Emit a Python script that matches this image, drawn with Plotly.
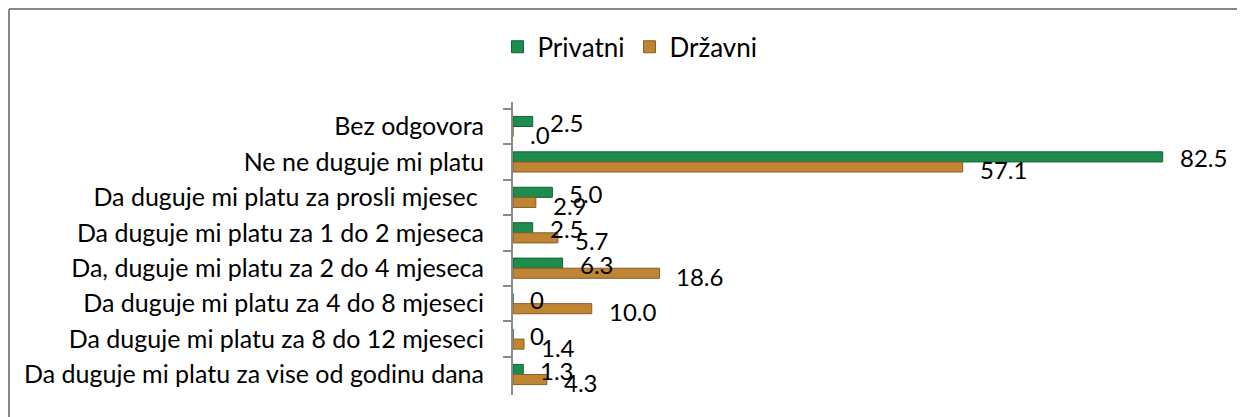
import plotly.graph_objects as go

categories = [
    "Bez odgovora",
    "Ne ne duguje mi platu",
    "Da duguje mi platu za prosli mjesec ",
    "Da duguje mi platu za 1 do 2 mjeseca",
    "Da, duguje mi platu za 2 do 4 mjeseca",
    "Da duguje mi platu za 4 do 8 mjeseci",
    "Da duguje mi platu za 8 do 12 mjeseci",
    "Da duguje mi platu za vise od godinu dana",
]
privatni = [2.5, 82.5, 5.0, 2.5, 6.3, 0, 0, 1.3]
drzavni = [0, 57.1, 2.9, 5.7, 18.6, 10.0, 1.4, 4.3]
privatni_labels = ["2.5", "82.5", "5.0", "2.5", "6.3", "0", "0", "1.3"]
drzavni_labels = [".0", "57.1", "2.9", "5.7", "18.6", "10.0", "1.4", "4.3"]

# the page body adds an 8px margin, so the figure is 8px smaller
W, H = 1239, 409
ML, MR, MT, MB = 505, 41, 94, 22
FONT = "Lato"
FS = 24

fig = go.Figure()
fig.add_trace(go.Bar(
    y=categories, x=privatni, orientation="h", name="Privatni",
    marker=dict(color="#1d8c4c", line=dict(color="#0f6334", width=1)),
))
fig.add_trace(go.Bar(
    y=categories, x=drzavni, orientation="h", name="Državni",
    marker=dict(color="#bf8534", line=dict(color="#84601f", width=1)),
))

# data labels, placed like excel's outside-end labels
for cat, v, t in zip(categories, privatni, privatni_labels):
    fig.add_annotation(x=v, y=cat, text=t, showarrow=False, xanchor="left",
                       xshift=15, yshift=4, font=dict(family=FONT, size=FS, color="black"))
for cat, v, t in zip(categories, drzavni, drzavni_labels):
    fig.add_annotation(x=v, y=cat, text=t, showarrow=False, xanchor="left",
                       xshift=15, yshift=-8, font=dict(family=FONT, size=FS, color="black"))

# chart frame (top and left edges only are visible)
pw = W - ML - MR
ph = H - MT - MB
x0 = (1 - ML) / pw
x1 = (1229 - ML) / pw
ytop = 1 + (MT - 1) / ph
ybot = -MB / ph
fig.add_shape(type="line", xref="paper", yref="paper", x0=x0, x1=x1, y0=ytop, y1=ytop,
              line=dict(color="#868686", width=2))
fig.add_shape(type="line", xref="paper", yref="paper", x0=x0, x1=x0, y0=ytop, y1=ybot,
              line=dict(color="#868686", width=2))

fig.update_layout(
    width=W, height=H,
    margin=dict(l=ML, r=MR, t=MT, b=MB, autoexpand=False),
    barmode="group", bargap=0.43, bargroupgap=0,
    plot_bgcolor="white", paper_bgcolor="white",
    font=dict(family=FONT, size=FS, color="black"),
    legend=dict(orientation="h", xref="container", yref="container",
                x=0.502, xanchor="center", y=0.905, yanchor="middle",
                font=dict(size=26), itemwidth=30),
)
fig.update_xaxes(range=[0, 88], visible=False, automargin=False)
fig.update_yaxes(autorange="reversed", showline=True, linecolor="#8a8a8a", linewidth=2,
                 ticks="outside", ticklen=8, tickcolor="#8a8a8a", tickwidth=2,
                 tickson="boundaries", ticklabelstandoff=22, showgrid=False,
                 automargin=False, tickfont=dict(size=25))

fig.write_html("out.html")
